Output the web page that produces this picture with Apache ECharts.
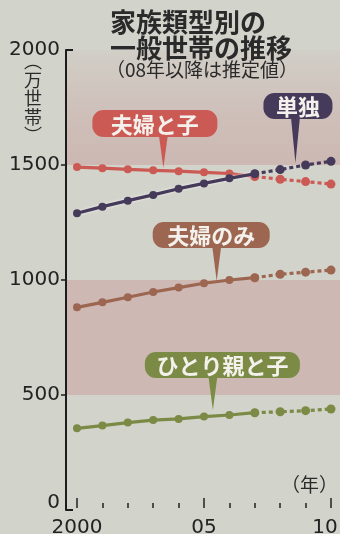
<!DOCTYPE html>
<html><head><meta charset="utf-8">
<script src="https://cdn.jsdelivr.net/npm/echarts@6/dist/echarts.min.js"></script>
<style>html,body{margin:0;padding:0;background:#d2d3cb;}#c{width:340px;height:534px;}</style>
</head><body><div id="c"></div>
<script>
// ---- data ----
const years = [2000, 2001, 2002, 2003, 2004, 2005, 2006, 2007, 2008, 2009, 2010];
const lastActualIndex = 7; // 2007; 08年以降は推定値
const coupleWithChildren = [1491, 1486, 1481, 1477, 1473, 1468, 1463, 1450, 1438, 1428, 1417]; // 夫婦と子
const single = [1290, 1319, 1345, 1370, 1397, 1420, 1442, 1462, 1480, 1500, 1516];             // 単独
const coupleOnly = [881, 903, 925, 948, 967, 986, 1000, 1010, 1025, 1034, 1043];               // 夫婦のみ
const singleParent = [355, 367, 380, 391, 396, 406, 413, 423, 427, 432, 439];                  // ひとり親と子
const seriesNames = ['夫婦と子', '単独', '夫婦のみ', 'ひとり親と子'];
const yTicks = [0, 500, 1000, 1500, 2000];
const xLabelYears = [2000, 2005, 2010];
const bands = [[500, 1000], [1500, 2000]];
// callout anchor points (data space) for each label
const calloutAnchors = [[2003.4, 1487], [2008.6, 1509], [2005.5, 996], [2005.35, 435]];

// ---- style ----
const colors = ['#cc5a54', '#463a5b', '#9c6650', '#7b8a45'];
const boxGeom = [ // left, top offset from tip (px), width, height
  {l: -71, t: -58, w: 125, h: 27},
  {l: -32, t: -70, w: 69, h: 26},
  {l: -64, t: -59, w: 117, h: 26},
  {l: -68, t: -58, w: 155, h: 26}
];
const numFont = '"DejaVu Sans", sans-serif';
const jpFont = '"Noto Sans CJK JP", sans-serif';
const xMin = 2000 - 11 / 25.4, xMax = 2010 + 9 / 25.4;
const bandPink = '#cdb8b3';
const bandFills = [
  bandPink,
  {type: 'linear', x: 0, y: 0, x2: 0, y2: 1, colorStops: [
    {offset: 0, color: 'rgba(205,184,179,0.15)'}, {offset: 0.55, color: 'rgba(205,184,179,0.75)'}, {offset: 1, color: bandPink}]}
];

const chart = echarts.init(document.getElementById('c'), null, {renderer: 'canvas'});
const allData = [coupleWithChildren, single, coupleOnly, singleParent];
const drawOrder = [3, 2, 0, 1];
const series = [];
drawOrder.forEach((k, n) => {
  const vals = allData[k];
  const pts = years.map((y, i) => [y, vals[i]]);
  const s1 = {
    type: 'line', name: seriesNames[k], data: pts.slice(0, lastActualIndex + 1),
    symbol: 'circle', symbolSize: 8, showAllSymbol: true,
    lineStyle: {color: colors[k], width: 3.2},
    itemStyle: {color: colors[k]}, z: 3 + n, animation: false, silent: true
  };
  if (k === 1) { s1.lineStyle.shadowColor = 'rgba(255,255,255,0.8)'; s1.lineStyle.shadowBlur = 3; }
  if (n === 0) {
    s1.markArea = {
      silent: true,
      data: bands.map((b, i) => [{yAxis: b[0], itemStyle: {color: bandFills[i]}}, {yAxis: b[1]}])
    };
  }
  series.push(s1);
  series.push({
    type: 'line', name: seriesNames[k] + '（推定）', data: pts.slice(lastActualIndex),
    symbol: 'circle', symbolSize: 9, showAllSymbol: true,
    lineStyle: {color: colors[k], width: 3.2, type: [4, 3]},
    itemStyle: {color: colors[k]}, z: 3 + n, animation: false, silent: true
  });
});

chart.setOption({
  backgroundColor: '#d2d3cb',
  animation: false,
  grid: {left: 66, right: 0, top: 50, bottom: 24, outerBoundsMode: 'none'},
  xAxis: [{
    type: 'value', min: xMin, max: xMax, position: 'bottom', offset: -2,
    axisLine: {show: false}, splitLine: {show: false},
    axisTick: {show: true, inside: true, length: 5, customValues: years, lineStyle: {color: '#222', width: 1.5}},
    axisLabel: {
      customValues: xLabelYears, margin: 10, color: '#222', fontSize: 20, fontFamily: numFont,
      formatter: v => v === 2000 ? '2000' : (v === 2010 ? '{r|10}' : String(v).slice(2)),
      rich: {r: {fontSize: 20, fontFamily: numFont, color: '#222', padding: [0, 12, 0, 0]}}
    }
  }, {
    type: 'value', min: xMin, max: xMax, position: 'bottom', offset: -2,
    axisLine: {show: false}, splitLine: {show: false}, axisLabel: {show: false},
    axisTick: {show: true, inside: true, length: 10, customValues: xLabelYears, lineStyle: {color: '#222', width: 1.5}}
  }],
  yAxis: [{
    type: 'value', min: 0, max: 2000, position: 'left', z: 20,
    axisLine: {show: true, lineStyle: {color: '#1c1c1c', width: 2}},
    splitLine: {show: false},
    axisTick: {show: true, inside: false, length: 5, customValues: [500, 1000, 1500], lineStyle: {color: '#1c1c1c', width: 1.5}},
    axisLabel: {
      customValues: yTicks, margin: 6, color: '#222', fontSize: 20, fontFamily: numFont,
      formatter: v => v === 0 ? '{z|0}' : String(v),
      rich: {z: {fontSize: 20, fontFamily: numFont, color: '#222', padding: [0, 0, 14, 0]}}
    }
  }, {
    type: 'value', min: 0, max: 2000, position: 'left', z: 20,
    axisLine: {show: false}, splitLine: {show: false}, axisLabel: {show: false},
    axisTick: {show: true, inside: true, length: 7, customValues: [0, 2000], lineStyle: {color: '#1c1c1c', width: 2}}
  }],
  series: series
});

// ---- annotations ----
const g = [
  {type: 'text', z: 200, x: 110, y: 22, style: {text: '家族類型別の', font: 'bold 26px ' + jpFont, fill: '#2a2a2a', verticalAlign: 'middle'}},
  {type: 'text', z: 200, x: 110, y: 48, style: {text: '一般世帯の推移', font: 'bold 26px ' + jpFont, fill: '#2a2a2a', verticalAlign: 'middle'}},
  {type: 'text', z: 200, x: 106, y: 70, style: {text: '（08年以降は推定値）', font: '19px ' + jpFont, fill: '#2a2a2a', verticalAlign: 'middle'}},
  {type: 'text', z: 200, x: 33, y: 52, style: {text: '︵\n万\n世\n帯\n︶', font: '18px ' + jpFont, fill: '#2a2a2a', align: 'center', lineHeight: 18.5}},
  {type: 'text', z: 200, x: 338, y: 485, style: {text: '（年）', font: '19px ' + jpFont, fill: '#2a2a2a', align: 'right', verticalAlign: 'middle'}}
];
calloutAnchors.forEach((a, k) => {
  const p = chart.convertToPixel({xAxisIndex: 0, yAxisIndex: 0}, a);
  const b = boxGeom[k];
  const x0 = p[0] + b.l, y0 = p[1] + b.t;
  g.push({type: 'polygon', z: 100, silent: true,
    shape: {points: [[p[0] - 4.5, y0 + b.h - 2], [p[0] + 4.5, y0 + b.h - 2], [p[0], p[1]]]},
    style: {fill: colors[k]}});
  g.push({type: 'rect', z: 100, silent: true,
    shape: {x: x0, y: y0, width: b.w, height: b.h, r: 11},
    style: {fill: colors[k]}});
  g.push({type: 'text', z: 101, silent: true, x: x0 + b.w / 2, y: y0 + b.h / 2 + 1,
    style: {text: seriesNames[k], font: 'bold 22px ' + jpFont, fill: '#f4f1ec', align: 'center', verticalAlign: 'middle'}});
});
chart.setOption({graphic: g});
</script></body></html>
